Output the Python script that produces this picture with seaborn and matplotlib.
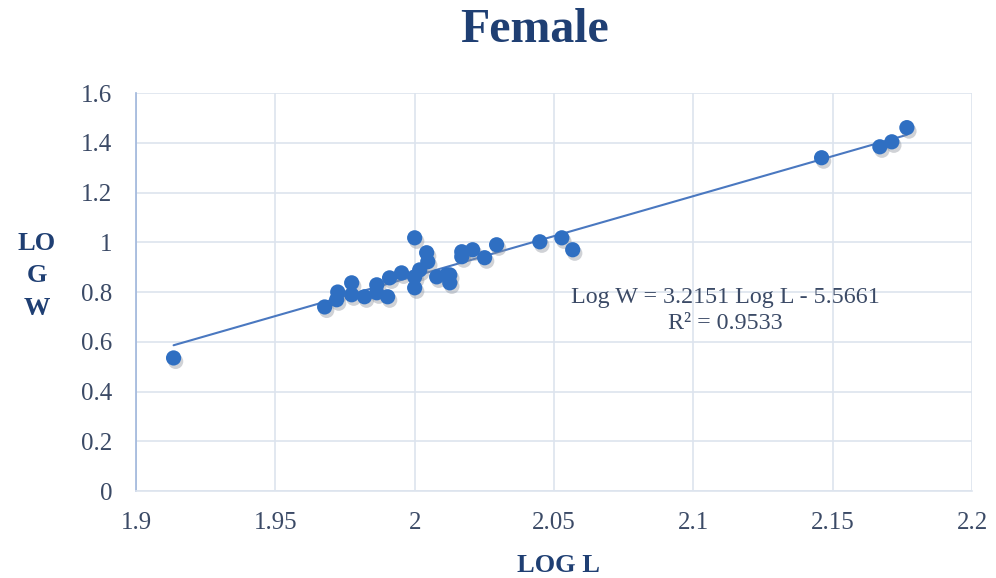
import numpy as np
import pandas as pd
import matplotlib
matplotlib.use("Agg")
import matplotlib.pyplot as plt
import matplotlib.patheffects as pe
import seaborn as sns

# Female length-weight relationship (log10 scale)
log_l = [1.9135, 1.9677, 1.9720, 1.9724, 1.9774, 1.9774, 1.9820, 1.9864, 1.9864,
         1.9903, 1.9910, 1.9953, 2.0000, 2.0000, 2.0000, 2.0018, 2.0043, 2.0047,
         2.0079, 2.0115, 2.0126, 2.0126, 2.0169, 2.0169, 2.0208, 2.0251, 2.0294,
         2.0449, 2.0528, 2.0567, 2.1460, 2.1669, 2.1712, 2.1766]
log_w = [0.535, 0.740, 0.769, 0.800, 0.837, 0.789, 0.781, 0.829, 0.797,
         0.781, 0.857, 0.877, 1.018, 0.861, 0.817, 0.889, 0.958, 0.922,
         0.861, 0.869, 0.869, 0.837, 0.962, 0.942, 0.970, 0.938, 0.990,
         1.002, 1.018, 0.970, 1.340, 1.384, 1.404, 1.461]

slope = 3.2151
intercept = -5.5661
r_squared = 0.9533

x_ticks = [1.9, 1.95, 2.0, 2.05, 2.1, 2.15, 2.2]
x_tick_labels = ["1.9", "1.95", "2", "2.05", "2.1", "2.15", "2.2"]
y_ticks = [0, 0.2, 0.4, 0.6, 0.8, 1.0, 1.2, 1.4, 1.6]
y_tick_labels = ["0", "0.2", "0.4", "0.6", "0.8", "1", "1.2", "1.4", "1.6"]

sns.set_theme(style="white")
plt.rcParams["font.family"] = ["Liberation Serif", "DejaVu Serif"]

navy = "#1f3f73"
tick_color = "#3b4a66"
point_color = "#2f6fc2"
line_color = "#4a78c0"
grid_color = "#dde4ee"

df = pd.DataFrame({"LOG L": log_l, "LOG W": log_w})
fit_x = np.array([min(log_l), max(log_l)])
fit = pd.DataFrame({"x": fit_x, "y": slope * fit_x + intercept})

fig = plt.figure(figsize=(9.96, 5.78), dpi=100)
ax = fig.add_axes([0.1365, 0.1505, 0.8395, 0.6885])

sns.lineplot(data=fit, x="x", y="y", ax=ax, color=line_color, linewidth=1.5, zorder=3)
sns.scatterplot(data=df, x="LOG L", y="LOG W", ax=ax, s=120, color=point_color,
                edgecolor="none", linewidth=0, zorder=4)
for coll in ax.collections:
    coll.set_path_effects([pe.SimplePatchShadow(offset=(1.5, -2.5), shadow_rgbFace="#8a8f99",
                                                alpha=0.4), pe.Normal()])

ax.set_xlim(1.9, 2.2)
ax.set_ylim(0, 1.6)
ax.set_xticks(x_ticks)
ax.set_xticklabels(x_tick_labels)
ax.set_yticks(y_ticks)
ax.set_yticklabels(y_tick_labels)
ax.tick_params(axis="both", labelsize=18, colors=tick_color, length=0)
ax.tick_params(axis="x", pad=15)
ax.tick_params(axis="y", pad=17)
ax.grid(True, color=grid_color, linewidth=1.2)
ax.set_axisbelow(True)
for side in ["top", "right"]:
    ax.spines[side].set_visible(False)
ax.spines["left"].set_color("#9fb6db")
ax.spines["left"].set_linewidth(1.2)
ax.spines["bottom"].set_color("#dde4ee")
ax.spines["bottom"].set_linewidth(1.2)

ax.set_xlabel("")
ax.set_ylabel("")
fig.text(0.561, 1 - 566 / 578, "LOG L", fontsize=19, fontweight="bold", color=navy,
         ha="center", va="center")
fig.text(0.037, 1 - 276 / 578, "LO\nG\nW", fontsize=19, fontweight="bold", color=navy,
         ha="center", va="center", linespacing=1.55)

fig.text(0.537, 1 - 30 / 578, "Female", fontsize=34.5, fontweight="bold", color=navy,
         ha="center", va="center")

ax.text(2.1115, 0.725, f"Log W = {slope} Log L - {-intercept}\nR² = {r_squared}",
        fontsize=17.3, color=tick_color, ha="center", va="center", linespacing=1.3)

fig.savefig("out.png", dpi=100)
